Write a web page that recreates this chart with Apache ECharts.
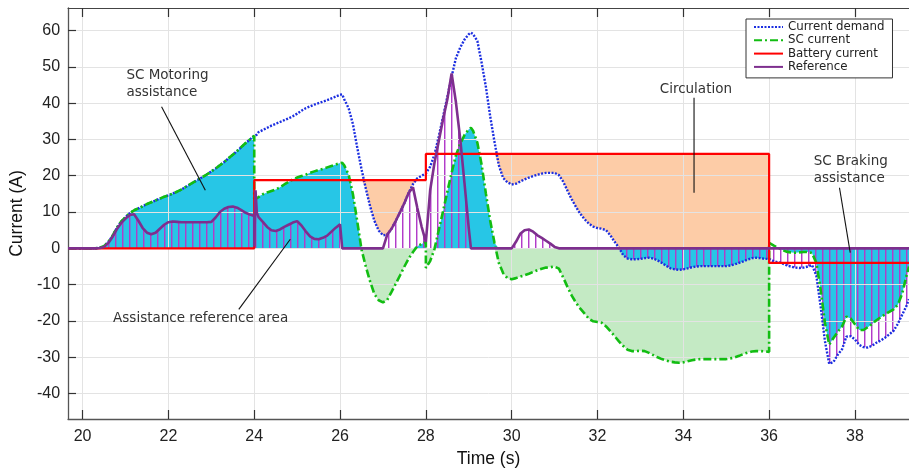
<!DOCTYPE html>
<html>
<head>
<meta charset="utf-8">
<script src="https://cdn.jsdelivr.net/npm/echarts@6/dist/echarts.min.js"></script>
<style>
  html, body { margin: 0; padding: 0; background: #fff; }
  #chart { width: 909px; height: 473px; }
</style>
</head>
<body>
<div id="chart"></div>
<script>
// ===== Data (common time base for all four traces) =====
const TIME = [
  19.66, 20.0, 20.2,
  20.3, 20.4, 20.5, 20.6, 20.7, 20.8, 20.9,
  21.0, 21.1, 21.2, 21.3, 21.4, 21.5, 21.6, 21.7, 21.8, 21.9,
  22.0, 22.1, 22.2, 22.3, 22.4, 22.5, 22.6, 22.7, 22.8, 22.9,
  23.0, 23.1, 23.2, 23.3, 23.4, 23.5, 23.6, 23.7, 23.8, 23.9,
  24.0, 24.0, 24.03, 24.06,
  24.1, 24.2, 24.3, 24.4, 24.5, 24.6, 24.7, 24.8, 24.9,
  25.0, 25.1, 25.2, 25.3, 25.4, 25.5, 25.6, 25.7, 25.8, 25.9,
  26.0, 26.05,
  26.1, 26.2, 26.3, 26.4, 26.5, 26.6, 26.7, 26.8, 26.9,
  27.0, 27.1, 27.2, 27.3, 27.4, 27.5, 27.6, 27.7, 27.8, 27.9,
  28.0, 28.0,
  28.1, 28.2, 28.3, 28.4, 28.5, 28.6, 28.7, 28.8, 28.9, 29.0,
  29.05,
  29.1, 29.2, 29.3, 29.4, 29.5, 29.6, 29.7, 29.8, 29.9,
  30.0, 30.1, 30.2, 30.3, 30.4, 30.5, 30.6, 30.7, 30.8, 30.9,
  31.0, 31.1, 31.2, 31.3, 31.4, 31.5, 31.6, 31.7, 31.8, 31.9,
  32.0, 32.1, 32.2, 32.3, 32.4, 32.5, 32.6, 32.7, 32.8, 32.9,
  33.0, 33.1, 33.2, 33.3, 33.4, 33.5, 33.6, 33.7, 33.8, 33.9,
  34.0, 34.1, 34.2, 34.3, 34.4, 34.5, 34.6, 34.7, 34.8, 34.9,
  35.0, 35.1, 35.2, 35.3, 35.4, 35.5, 35.6, 35.7, 35.8, 35.9,
  36.0, 36.0,
  36.1, 36.2, 36.3, 36.4, 36.5, 36.6, 36.7, 36.8, 36.9,
  37.0, 37.1, 37.2, 37.3, 37.4, 37.5, 37.6, 37.7, 37.8, 37.9,
  38.0, 38.1, 38.2, 38.3, 38.4, 38.5, 38.6, 38.7, 38.8, 38.9,
  39.0, 39.1, 39.2,
  39.26
];

const DEMAND = [
  0, 0, 0,
  0.0, 0.2, 0.6, 1.8, 3.5, 5.7, 7.4,
  8.6, 9.7, 10.5, 11.0, 11.6, 12.2, 12.7, 13.2, 13.7, 14.2,
  14.6, 15.1, 15.6, 16.2, 16.9, 17.6, 18.3, 19.0, 19.7, 20.4,
  21.2, 22.0, 22.9, 23.8, 24.8, 25.8, 26.8, 27.9, 29.0, 30.0,
  31.0, 31.0, 31.1, 31.3,
  32.0, 32.6, 33.2, 33.8, 34.3, 34.8, 35.3, 35.8, 36.4,
  37.1, 37.9, 38.6, 39.1, 39.6, 40.0, 40.4, 40.8, 41.3, 41.8,
  42.3, 42.4,
  41.0, 38.6, 34.2, 27.8, 21.8, 16.5, 11.6, 7.6, 4.9,
  3.6, 3.8, 5.4, 7.6, 10.0, 12.5, 15.3, 17.7, 19.3, 20.0,
  20.6, 20.6,
  22.5, 25.8, 30.8, 36.2, 41.7, 47.3, 52.4, 55.3, 57.5, 59.0,
  59.4,
  59.0, 57.1, 51.1, 44.4, 36.3, 29.3, 22.9, 19.4, 18.2,
  17.6, 17.8, 18.4, 19.0, 19.5, 19.9, 20.3, 20.6, 20.8, 20.8,
  20.8, 20.2, 18.4, 15.9, 13.5, 11.4, 9.5, 8.0, 6.8, 6.0,
  5.6, 5.4, 5.0, 3.6, 1.8, 0.2, -1.9, -2.8, -3.0, -3.0,
  -2.9, -2.7, -2.6, -2.8, -3.3, -4.0, -4.8, -5.5, -5.8, -5.9,
  -5.8, -5.5, -5.2, -5.0, -4.9, -4.9, -4.9, -4.9, -4.9, -4.9,
  -4.9, -4.7, -4.4, -4.0, -3.6, -3.1, -2.7, -2.6, -2.7, -2.9,
  -2.9, -2.9,
  -3.5, -3.8, -4.1, -4.6, -5.0, -5.3, -5.4, -5.3, -5.0,
  -4.6, -7.5, -15.9, -25.5, -31.8, -31.3, -29.3, -27.8, -24.3, -24.2,
  -25.1, -26.6, -27.2, -27.3, -26.8, -26.0, -25.4, -24.6, -23.7, -22.7,
  -20.8, -18.3, -15.9,
  -14.0
];

const SC_CURRENT = [
  0, 0, 0,
  0.0, 0.2, 0.6, 1.8, 3.5, 5.7, 7.4,
  8.6, 9.7, 10.5, 11.0, 11.6, 12.2, 12.7, 13.2, 13.7, 14.2,
  14.6, 15.1, 15.6, 16.2, 16.9, 17.6, 18.3, 19.0, 19.7, 20.4,
  21.2, 22.0, 22.9, 23.8, 24.8, 25.8, 26.8, 27.9, 29.0, 30.0,
  31.0, 13.5, 13.6, 13.8,
  14.3, 14.9, 15.4, 15.8, 16.2, 16.8, 17.6, 18.3, 19.0,
  19.5, 19.9, 20.3, 20.8, 21.2, 21.6, 21.9, 22.3, 22.7, 23.1,
  23.5, 23.6,
  22.8, 20.3, 14.9, 7.5, -0.3, -5.0, -9.1, -12.6, -14.3,
  -14.9, -14.2, -12.0, -9.7, -7.4, -5.0, -2.8, -1.0, 0.6, 1.2,
  1.8, -5.4,
  -3.5, -0.2, 5.0, 10.2, 15.6, 20.8, 25.6, 28.8, 31.2, 32.8,
  33.2,
  32.4, 29.1, 23.0, 15.0, 7.6, 1.5, -4.0, -6.8, -8.2,
  -8.5, -8.2, -7.8, -7.4, -7.0, -6.5, -6.0, -5.6, -5.3, -5.2,
  -5.0, -5.6, -8.0, -10.6, -13.0, -15.0, -16.6, -18.0, -19.4, -20.1,
  -20.3, -20.5, -21.5, -22.8, -24.2, -25.6, -26.9, -27.9, -28.3, -28.3,
  -28.2, -28.3, -28.8, -29.4, -30.0, -30.5, -30.9, -31.2, -31.4, -31.5,
  -31.4, -31.1, -30.8, -30.6, -30.5, -30.5, -30.5, -30.5, -30.5, -30.5,
  -30.5, -30.3, -30.0, -29.6, -29.1, -28.7, -28.4, -28.3, -28.3, -28.4,
  -28.5, 1.5,
  0.8, 0.2, -0.4, -0.9, -1.1, -1.2, -1.1, -1.0, -1.0,
  -1.3, -4.0, -11.3, -20.5, -26.5, -24.7, -23.0, -21.5, -18.8, -19.3,
  -20.9, -22.5, -22.5, -21.7, -20.8, -19.8, -19.0, -18.2, -17.5, -16.8,
  -15.5, -12.5, -7.6,
  -5.0
];

const BATTERY = [
  0, 0, 0,
  0, 0, 0, 0, 0, 0, 0,
  0, 0, 0, 0, 0, 0, 0, 0, 0, 0,
  0, 0, 0, 0, 0, 0, 0, 0, 0, 0,
  0, 0, 0, 0, 0, 0, 0, 0, 0, 0,
  0, 18.8, 18.8, 18.8,
  18.8, 18.8, 18.8, 18.8, 18.8, 18.8, 18.8, 18.8, 18.8,
  18.8, 18.8, 18.8, 18.8, 18.8, 18.8, 18.8, 18.8, 18.8, 18.8,
  18.8, 18.8,
  18.8, 18.8, 18.8, 18.8, 18.8, 18.8, 18.8, 18.8, 18.8,
  18.8, 18.8, 18.8, 18.8, 18.8, 18.8, 18.8, 18.8, 18.8, 18.8,
  18.8, 26.0,
  26, 26, 26, 26, 26, 26, 26, 26, 26, 26,
  26,
  26, 26, 26, 26, 26, 26, 26, 26, 26,
  26, 26, 26, 26, 26, 26, 26, 26, 26, 26,
  26, 26, 26, 26, 26, 26, 26, 26, 26, 26,
  26, 26, 26, 26, 26, 26, 26, 26, 26, 26,
  26, 26, 26, 26, 26, 26, 26, 26, 26, 26,
  26, 26, 26, 26, 26, 26, 26, 26, 26, 26,
  26, 26, 26, 26, 26, 26, 26, 26, 26, 26,
  26, -4,
  -4, -4, -4, -4, -4, -4, -4, -4, -4,
  -4, -4, -4, -4, -4, -4, -4, -4, -4, -4,
  -4, -4, -4, -4, -4, -4, -4, -4, -4, -4,
  -4, -4, -4,
  -4
];

const REFERENCE = [
  0, 0, 0,
  0.0, 0.1, 0.4, 1.5, 3.2, 5.3, 7.0,
  8.2, 9.2, 9.4, 7.6, 5.6, 4.3, 3.9, 4.3, 5.4, 6.5,
  7.2, 7.4, 7.3, 7.2, 7.2, 7.2, 7.2, 7.2, 7.2, 7.2,
  7.3, 8.5, 10.0, 10.9, 11.4, 11.5, 11.2, 10.5, 9.8, 9.3,
  8.9, 0.5, 16.0, 9.8,
  8.6, 7.3, 5.9, 5.0, 4.8, 5.2, 5.9, 6.5, 7.1,
  7.5, 6.3, 4.7, 3.3, 2.6, 2.5, 2.9, 3.5, 4.6, 5.7,
  6.6, 0,
  0, 0, 0, 0, 0, 0, 0, 0, 0,
  0, 3.8, 5.4, 7.6, 10.0, 12.5, 15.3, 16.8, 11.2, 6.0,
  1.8, 1.8,
  16.0, 23.5, 29.5, 35.5, 41.0, 48.2, 40.3, 30.2, 18.0, 5.5,
  0,
  0, 0, 0, 0, 0, 0, 0, 0, 0,
  0, 1.8, 4.0, 5.0, 5.2, 4.6, 3.6, 2.9, 2.1, 1.3,
  0.4, 0, 0, 0, 0, 0, 0, 0, 0, 0,
  0, 0, 0, 0, 0, 0, 0, 0, 0, 0,
  0, 0, 0, 0, 0, 0, 0, 0, 0, 0,
  0, 0, 0, 0, 0, 0, 0, 0, 0, 0,
  0, 0, 0, 0, 0, 0, 0, 0, 0, 0,
  0, 0,
  0, 0, 0, 0, 0, 0, 0, 0, 0,
  0, 0, 0, 0, 0, 0, 0, 0, 0, 0,
  0, 0, 0, 0, 0, 0, 0, 0, 0, 0,
  0, 0, 0,
  0
];

// time spans where the battery "circulates" energy into the SC (orange area)
const CIRCULATION_SPANS = [[26.4, 27.95], [29.6, 36.0]];

const X_TICKS = [20, 22, 24, 26, 28, 30, 32, 34, 36, 38];
const Y_TICKS = [-40, -30, -20, -10, 0, 10, 20, 30, 40, 50, 60];
const X_MIN = 19.66, X_MAX = 39.26;
const Y_MIN = -47, Y_MAX = 66.2;

const ANNOTATIONS = [
  { text: 'SC Motoring\nassistance', at: [21.02, 45.3], from: [21.84, 39.0], to: [22.86, 16.0] },
  { text: 'Assistance reference area', at: [20.71, -19.35], from: [23.64, -16.8], to: [24.84, 2.5] },
  { text: 'Circulation', at: [33.45, 43.8], from: [34.25, 41.5], to: [34.25, 15.3] },
  { text: 'SC Braking\nassistance', at: [37.04, 21.5], from: [37.64, 16.7], to: [37.89, -1.2] }
];

[DEMAND, SC_CURRENT, BATTERY, REFERENCE].forEach((a, k) => {
  if (a.length !== TIME.length) console.warn('[chart] array', k, 'length', a.length, 'vs', TIME.length);
});

// ===== Fill boundaries built from the traces =====
const zeros = TIME.map(() => 0);

// SC helping in the same direction as the demand (cyan)
const cyanEdge = TIME.map((t, i) => {
  const s = SC_CURRENT[i], d = DEMAND[i];
  if (s * d <= 0) return 0;
  return s > 0 ? Math.min(s, d) : Math.max(s, d);
});
const cyanLo = cyanEdge.map(v => Math.min(0, v));
const cyanHi = cyanEdge.map(v => Math.max(0, v));

// SC charging (light green)
const greenLo = SC_CURRENT.map(v => Math.min(0, v));

// circulation: between demand (or 0) and battery (orange)
const inSpan = t => CIRCULATION_SPANS.some(s => t >= s[0] && t <= s[1]);
const orangeHi = BATTERY.slice();
const orangeLo = TIME.map((t, i) => {
  const lo = Math.max(DEMAND[i], 0);
  if (!inSpan(t) || lo > BATTERY[i]) return BATTERY[i];
  return lo;
});

// reference area (hatched): reference when positive, otherwise negative demand
const hatchEdge = TIME.map((t, i) => REFERENCE[i] > 0 ? REFERENCE[i] : Math.min(DEMAND[i], 0));
const hatchLo = hatchEdge.map(v => Math.min(0, v));
const hatchHi = hatchEdge.map(v => Math.max(0, v));

function band(lo, hi) {
  const pts = TIME.map((t, i) => [t, hi[i]]);
  for (let i = TIME.length - 1; i >= 0; i--) pts.push([TIME[i], lo[i]]);
  return pts;
}

// vertical hatch pattern
const hatch = document.createElement('canvas');
hatch.width = 7; hatch.height = 8;
const hc = hatch.getContext('2d');
hc.fillStyle = '#b23cc9';
hc.fillRect(3, 0, 1, 8);
hc.fillStyle = 'rgba(178,60,201,0.45)';
hc.fillRect(4, 0, 1, 8);

function fillSeries(name, points, fill) {
  return {
    type: 'custom',
    name,
    silent: true,
    z: 1,
    data: [[TIME[0], 0]],
    renderItem: (params, api) => ({
      type: 'polygon',
      shape: { points: points.map(p => api.coord(p)) },
      style: { fill: fill, lineWidth: 0 }
    })
  };
}

function lineSeries(name, values, color, width, dash) {
  return {
    type: 'line',
    name,
    z: 3,
    data: TIME.map((t, i) => [t, values[i]]),
    showSymbol: false,
    symbol: 'none',
    clip: true,
    lineStyle: { color, width, type: dash || 'solid', cap: 'butt' },
    itemStyle: { color }
  };
}

// ===== Chart =====
const chart = echarts.init(document.getElementById('chart'), null, { renderer: 'canvas' });

const axisFont = { fontFamily: 'Liberation Sans', fontSize: 16, color: '#222' };

chart.setOption({
  animation: false,
  backgroundColor: '#fff',
  grid: { left: 63, right: 0, top: 8, bottom: 54, containLabel: false },
  legend: {
    data: ['Current demand', 'SC current', 'Battery current', 'Reference'],
    orient: 'vertical',
    left: 746,
    top: 19,
    padding: [2, 8, 5, 7],
    itemGap: 1.3,
    itemWidth: 29,
    itemHeight: 12,
    itemStyle: { opacity: 0 },
    borderColor: '#333',
    borderWidth: 1,
    borderRadius: 0,
    backgroundColor: '#fff',
    selectedMode: false,
    textStyle: { fontFamily: 'DejaVu Sans', fontSize: 11.8, color: '#222' }
  },
  xAxis: [{
    type: 'value',
    min: X_MIN, max: X_MAX,
    z: 2,
    name: 'Time (s)',
    nameLocation: 'middle',
    nameGap: 31,
    nameTextStyle: { fontFamily: 'Liberation Sans', fontSize: 17.5, color: '#111' },
    axisLine: { show: true, onZero: false, lineStyle: { color: '#555', width: 1.3 } },
    axisTick: { show: true, inside: true, length: 9, customValues: X_TICKS, lineStyle: { color: '#333', width: 1.2 } },
    axisLabel: Object.assign({ customValues: X_TICKS, margin: 10 }, axisFont),
    splitLine: { show: true, lineStyle: { color: '#e3e3e3', width: 1 } }
  }, {
    type: 'value',
    position: 'top',
    min: X_MIN, max: X_MAX,
    z: 2,
    axisLine: { show: true, onZero: false, lineStyle: { color: '#444', width: 1.2 } },
    axisTick: { show: true, inside: true, length: 9, customValues: X_TICKS, lineStyle: { color: '#333', width: 1.2 } },
    axisLabel: { show: false },
    splitLine: { show: false }
  }],
  yAxis: {
    type: 'value',
    min: Y_MIN, max: Y_MAX,
    z: 2,
    name: 'Current (A)',
    nameLocation: 'middle',
    nameGap: 37,
    nameTextStyle: { fontFamily: 'Liberation Sans', fontSize: 17.5, color: '#111' },
    axisLine: { show: true, onZero: false, lineStyle: { color: '#555', width: 1.3 } },
    axisTick: { show: true, inside: true, length: 8, customValues: Y_TICKS, lineStyle: { color: '#333', width: 1.2 } },
    axisLabel: Object.assign({ customValues: Y_TICKS, margin: 8 }, axisFont),
    splitLine: { show: true, lineStyle: { color: '#e3e3e3', width: 1 } }
  },
  series: [
    fillSeries('green-area', band(greenLo, zeros), '#c4eac4'),
    fillSeries('orange-area', band(orangeLo, orangeHi), '#fdcca7'),
    fillSeries('cyan-area', band(cyanLo, cyanHi), '#27c6e6'),
    fillSeries('hatch-area', band(hatchLo, hatchHi), { image: hatch, repeat: 'repeat' }),
    lineSeries('Current demand', DEMAND, '#1b2ee0', 2.4, [2, 1.5]),
    lineSeries('SC current', SC_CURRENT, '#12bd12', 2.6, [8, 3, 2, 3]),
    lineSeries('Battery current', BATTERY, '#ff0000', 2.2),
    lineSeries('Reference', REFERENCE, '#7e2f8e', 2.6)
  ]
});

// ===== Annotations (text + pointer lines, placed in data units) =====
function px(p) { return chart.convertToPixel({ xAxisIndex: 0, yAxisIndex: 0 }, p); }

const graphics = [];
ANNOTATIONS.forEach(a => {
  const f = px(a.from), t = px(a.to), at = px(a.at);
  graphics.push({
    type: 'line', z: 10, silent: true,
    shape: { x1: f[0], y1: f[1], x2: t[0], y2: t[1] },
    style: { stroke: '#111', lineWidth: 1.1 }
  });
  graphics.push({
    type: 'text', z: 10, silent: true,
    x: at[0], y: at[1],
    style: {
      text: a.text, fill: '#333', font: '13.5px "DejaVu Sans"',
      lineHeight: 17, align: 'left', verticalAlign: 'middle'
    }
  });
});
chart.setOption({ graphic: graphics });
</script>
</body>
</html>
